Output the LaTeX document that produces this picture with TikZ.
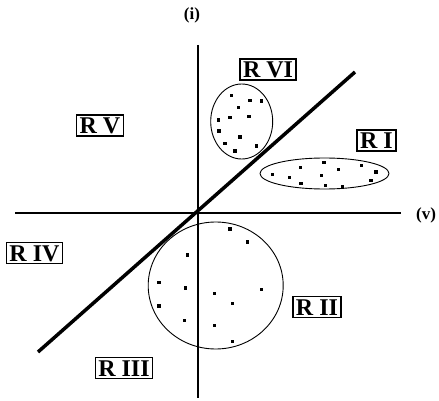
\documentclass[tikz,border=0pt]{standalone}
\usepackage{fontspec}
\setmainfont{Liberation Serif}

\tikzset{
  region/.style={draw, line width=1.5pt, font=\fontsize{24}{24}\selectfont\bfseries,
    text height=16pt, text depth=0pt, inner xsep=3pt, inner ysep=2.5pt},
  axislabel/.style={font=\fontsize{17}{17}\selectfont\bfseries},
  cluster/.style={draw, line width=0.9pt},
  pt/.style={fill=black}
}

\begin{document}
\begin{tikzpicture}[x=1pt, y=-1pt]
    \useasboundingbox (0,0) rectangle (439,401);
    % axes
    \coordinate (xl) at (15,213);
    \coordinate (xr) at (401,213);
    \coordinate (yt) at (198,45);
    \coordinate (yb) at (198,398);
    \draw[line width=2.2pt] (xl) -- (xr);
    \draw[line width=2.2pt] (yt) -- (yb);
    \node[axislabel] (ilab) at (192,15) {(i)};
    \node[axislabel] (vlab) at (426,215) {(v)};
    % separating line
    \coordinate (dl) at (38,352);
    \coordinate (du) at (355,72);
    \draw[line width=3.5pt] (dl) -- (du);
    % clusters
    \draw[cluster] (241.7,121.5) ellipse [x radius=31, y radius=37.5];
    \draw[cluster] (324.5,173.5) ellipse [x radius=64.5, y radius=15.5];
    \draw[cluster] (215.7,285.5) ellipse [x radius=67.5, y radius=63.5];
    \foreach \px/\py in {231.7/95.7, 250/100.7, 261.7/101, 238.3/107.7, 230/117.7, 249/116.3,
        218.3/120, 219/131, 240/137, 225/143.3, 256.7/146, 235/151,
        272.3/174.3, 289.3/177.7, 300.7/167.7, 301/183.3, 321.7/175.7, 324/162.7,
        325.7/185.7, 338.3/169.3, 342.3/187, 361.3/165.7, 371/180.3, 376/172,
        230/229, 247.7/242, 187.3/255, 159/282.3, 185.7/288, 261.7/289.3,
        214.3/293.3, 232.7/303.7, 159/306, 184.3/320.3, 214.3/325.7, 232.3/341.3}
        \fill[pt] (\px-1.6,\py-1.6) rectangle (\px+1.6,\py+1.6);
    % region labels
    \node[region] (r1) at (376.5,140.5) {R I};
    \node[region] (r2) at (317,307) {R II};
    \node[region] (r3) at (124,368) {R III};
    \node[region] (r4) at (34.5,253) {R IV};
    \node[region] (r5) at (100,125.5) {R V};
    \node[region] (r6) at (268,69.5) {R VI};
\end{tikzpicture}
\end{document}
